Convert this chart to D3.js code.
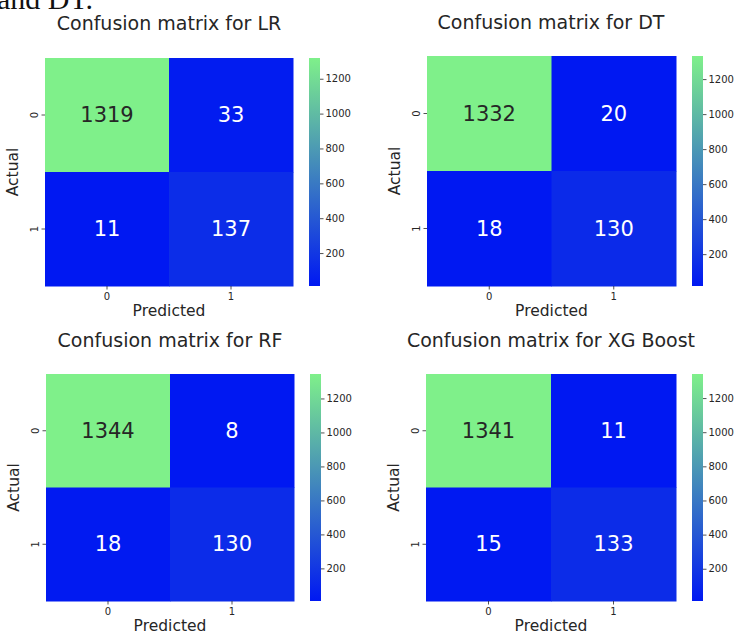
<!DOCTYPE html>
<html><head><meta charset="utf-8">
<script src="https://cdn.jsdelivr.net/npm/d3@7"></script>
<style>
html,body{margin:0;padding:0;background:#fff;}
svg{display:block;font-family:"DejaVu Sans",sans-serif;}
</style></head>
<body><svg id="c" width="734" height="632"></svg>
<script>
const labels = ["0","1"];
const models = ["LR","DT","RF","XG Boost"];
const mLR = [[1319,33],[11,137]];
const mDT = [[1332,20],[18,130]];
const mRF = [[1344,8],[18,130]];
const mXG = [[1341,11],[15,133]];
const cbTicks = [200,400,600,800,1000,1200];
const matrices = [mLR, mDT, mRF, mXG];

const layout = [
  {hx:[45,293], hy:[58,286], cb:[309,320], tx:169, ty:30},
  {hx:[427,676], hy:[56,286], cb:[692,703], tx:551, ty:29},
  {hx:[46,294], hy:[374,601], cb:[310,321], tx:170, ty:347},
  {hx:[426,676], hy:[374,601], cb:[692,703], tx:551, ty:347}
];

const lowC = "#0018f2", highC = "#7ff08a";
const svg = d3.select("#c");

// clipped text from the page above
svg.append("text").attr("x",-3).attr("y",9)
  .attr("font-family","Liberation Serif, serif").attr("font-size",30)
  .attr("fill","#111").text("and DT.");

matrices.forEach((m,i)=>{
  const L = layout[i];
  const g = svg.append("g");
  const flat = m.flat();
  const vmin = d3.min(flat), vmax = d3.max(flat);
  const color = d3.scaleLinear().domain([vmin,vmax]).range([lowC,highC]).interpolate(d3.interpolateRgb);
  const x = d3.scaleBand().domain(labels).range(L.hx);
  const y = d3.scaleBand().domain(labels).range(L.hy);
  const cells = [];
  m.forEach((row,r)=>row.forEach((v,c)=>cells.push({r:labels[r],c:labels[c],v})));
  g.selectAll("rect.cell").data(cells).join("rect")
    .attr("x",d=>x(d.c)).attr("y",d=>y(d.r))
    .attr("width",x.bandwidth()+0.5).attr("height",y.bandwidth()+0.5)
    .attr("fill",d=>color(d.v));
  g.selectAll("text.ann").data(cells).join("text")
    .attr("x",d=>x(d.c)+x.bandwidth()/2).attr("y",d=>y(d.r)+y.bandwidth()/2)
    .attr("text-anchor","middle").attr("dominant-baseline","central")
    .attr("font-size",21)
    .attr("fill",d=> (d.v-vmin)/(vmax-vmin) > 0.5 ? "#262626" : "#ffffff")
    .text(d=>d.v);

  // x axis
  const xa = g.append("g").attr("transform",`translate(0,${L.hy[1]})`)
    .call(d3.axisBottom(x).tickSize(3.5).tickPadding(3));
  xa.select(".domain").remove();
  xa.selectAll("text").attr("font-size",10).attr("fill","#262626").attr("font-family","DejaVu Sans");
  xa.selectAll("line").attr("stroke","#262626").attr("stroke-width",0.8);
  // y axis
  const ya = g.append("g").attr("transform",`translate(${L.hx[0]},0)`)
    .call(d3.axisLeft(y).tickSize(3.5).tickPadding(3));
  ya.select(".domain").remove();
  ya.selectAll("text").attr("font-size",10).attr("fill","#262626").attr("font-family","DejaVu Sans")
    .attr("text-anchor","middle").attr("dy",null).attr("dominant-baseline","auto")
    .attr("transform","rotate(-90)")
    .attr("x",0)
    .attr("y",-7);
  ya.selectAll("line").attr("stroke","#262626").attr("stroke-width",0.8);

  // axis labels
  g.append("text").attr("x",(L.hx[0]+L.hx[1])/2).attr("y",L.hy[1]+30)
    .attr("text-anchor","middle").attr("font-size",15.5).attr("fill","#262626").text("Predicted");
  g.append("text").attr("transform",`translate(${L.hx[0]-27},${(L.hy[0]+L.hy[1])/2}) rotate(-90)`)
    .attr("text-anchor","middle").attr("font-size",15.5).attr("fill","#262626").text("Actual");
  // title
  g.append("text").attr("x",L.tx).attr("y",L.ty).attr("text-anchor","middle")
    .attr("font-size",19).attr("fill","#262626").text("Confusion matrix for " + models[i]);

  // colorbar
  const gid = "grad"+i;
  const grad = svg.append("defs").append("linearGradient").attr("id",gid)
    .attr("x1",0).attr("y1",1).attr("x2",0).attr("y2",0);
  grad.append("stop").attr("offset","0%").attr("stop-color",lowC);
  grad.append("stop").attr("offset","100%").attr("stop-color",highC);
  const cs = d3.scaleLinear().domain([vmin,vmax]).range([L.hy[1],L.hy[0]]);
  g.append("rect").attr("x",L.cb[0]).attr("y",L.hy[0]).attr("width",L.cb[1]-L.cb[0])
    .attr("height",L.hy[1]-L.hy[0]).attr("fill",`url(#${gid})`);
  const ca = g.append("g").attr("transform",`translate(${L.cb[1]},0)`)
    .call(d3.axisRight(cs).tickValues(cbTicks).tickFormat(d3.format("d")).tickSize(3.5).tickPadding(2));
  ca.select(".domain").remove();
  ca.selectAll("text").attr("font-size",10).attr("fill","#262626").attr("font-family","DejaVu Sans");
  ca.selectAll("line").attr("stroke","#262626").attr("stroke-width",0.8);
});
</script></body></html>
